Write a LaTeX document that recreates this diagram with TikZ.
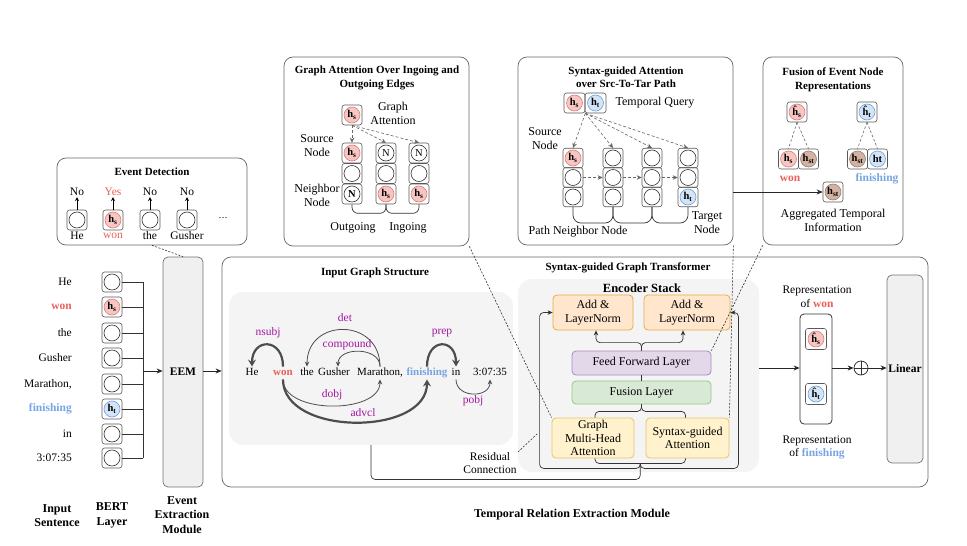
\documentclass[tikz,border=0pt]{standalone}
\usepackage{fontspec}
\setmainfont{Liberation Serif}
\usetikzlibrary{arrows.meta,calc}
\definecolor{redF}{HTML}{F6C6C3}
\definecolor{redD}{HTML}{E07B76}
\definecolor{blueF}{HTML}{D4E4F7}
\definecolor{blueD}{HTML}{6F9FD8}
\definecolor{brownF}{HTML}{D2B2A2}
\definecolor{brownD}{HTML}{9A7E70}
\definecolor{wonC}{HTML}{E8605A}
\definecolor{finC}{HTML}{76A5E2}
\definecolor{relC}{HTML}{A316A0}
\definecolor{arcC}{HTML}{4D4D4D}
\definecolor{addF}{HTML}{FFE6CC}
\definecolor{addD}{HTML}{E5AC45}
\definecolor{ffnF}{HTML}{E3D7EA}
\definecolor{ffnD}{HTML}{A88CC0}
\definecolor{fusF}{HTML}{D8EAD6}
\definecolor{fusD}{HTML}{96C48A}
\definecolor{attF}{HTML}{FFF2CC}
\definecolor{attD}{HTML}{E5C46B}
\definecolor{panelF}{HTML}{F4F4F4}
\newcommand{\myh}[1]{\textbf{h}\textsubscript{\textbf{#1}}}
\newcommand{\myhh}[1]{\textbf{\^{h}}\textsubscript{\textbf{#1}}}
\newcommand{\tcell}[6][]{%
  \node[cellbox,#1] (#2) at (#3) {};
  \node[tokc, fill=#4, draw=#5] (#2c) at (#3) {#6};}
\begin{document}
\begin{tikzpicture}[x=1pt,y=-1pt,
  tx/.style={font=\fontsize{11.5}{13.5}\selectfont, inner sep=1pt, align=center},
  txl/.style={font=\fontsize{12}{14}\selectfont, inner sep=1pt, align=center},
  ttl/.style={font=\bfseries\fontsize{11}{13.5}\selectfont, inner sep=1pt, align=center},
  btl/.style={font=\bfseries\fontsize{12}{14.5}\selectfont, inner sep=1pt, align=center},
  cellbox/.style={draw=black!65, rounded corners=2.5pt, minimum width=20pt, minimum height=20pt, inner sep=0pt, line width=0.6pt},
  tokc/.style={circle, minimum size=16pt, inner sep=0pt, line width=0.6pt, font=\fontsize{10.5}{10.5}\selectfont},
  panelbox/.style={draw=black!60, rounded corners=9pt, line width=0.7pt, inner sep=0pt},
  graybg/.style={fill=panelF, rounded corners=14pt, inner sep=0pt},
  modbox/.style={draw=black!55, fill=black!6, rounded corners=5pt, line width=0.7pt, inner sep=0pt},
  encblk/.style={rounded corners=4pt, line width=0.8pt, inner sep=1pt, align=center, font=\fontsize{12}{13.5}\selectfont},
  dsh/.style={dash pattern=on 2pt off 1.5pt, line width=0.55pt, black!85},
  garr/.style={dash pattern=on 3pt off 2pt, line width=0.6pt, black!60, -{Stealth[length=5pt,width=4.5pt]}},
  gline/.style={dash pattern=on 2.5pt off 2pt, line width=0.6pt, black!60},
  conn/.style={line width=0.7pt, black!80},
  sarr/.style={line width=0.7pt, black!85, -{Stealth[length=6pt,width=5pt]}},
  tarr/.style={line width=0.8pt, black, -{Stealth[length=4pt,width=4pt]}},
  carr/.style={conn, rounded corners=4pt, -{Stealth[length=5pt,width=4.5pt]}},
  thinarc/.style={line width=0.8pt, arcC, -{Stealth[length=5pt,width=4.5pt]}},
  thickarc/.style={line width=2.2pt, arcC, -{Stealth[length=7pt,width=8pt,inset=2.5pt]}},
  rel/.style={font=\fontsize{11.5}{13}\selectfont, text=relC, inner sep=1pt},
  gw/.style={font=\fontsize{11}{13}\selectfont, text height=8pt, text depth=2.5pt, inner sep=1pt},
]
\useasboundingbox (0,0) rectangle (967,546);

% ---------- panels ----------
\node[panelbox, minimum width=190pt, minimum height=87pt] (edbox) at (152,201.5) {};
\node[panelbox, minimum width=185pt, minimum height=189pt] (gabox) at (376.5,151.5) {};
\node[panelbox, minimum width=215pt, minimum height=188pt] (sabox) at (625.5,151) {};
\node[panelbox, minimum width=140pt, minimum height=188pt] (fubox) at (833,151) {};
\node[panelbox, minimum width=706pt, minimum height=230pt] (trem) at (575,372) {};
\node[graybg, minimum width=284pt, minimum height=153pt] (igs) at (371,368.5) {};
\node[graybg, minimum width=241pt, minimum height=193pt] (enc) at (638.5,375.5) {};
\node[modbox, minimum width=40pt, minimum height=230pt, font=\bfseries\fontsize{11.5}{13}\selectfont] (eem) at (183,372) {EEM};
\node[modbox, minimum width=36pt, minimum height=188pt, font=\bfseries\fontsize{11.5}{13}\selectfont] (lin) at (905,369) {Linear};

% ---------- left: input sentence + BERT ----------
\node[tx, anchor=east] (s1) at (73,282) {He};
\node[tx, anchor=east, text=wonC, font=\bfseries\fontsize{11.5}{13.5}\selectfont] (s2) at (73,307) {won};
\node[tx, anchor=east] (s3) at (73,333) {the};
\node[tx, anchor=east] (s4) at (73,358) {Gusher};
\node[tx, anchor=east] (s5) at (73,384) {Marathon,};
\node[tx, anchor=east, text=finC, font=\bfseries\fontsize{11.5}{13.5}\selectfont] (s6) at (73,409) {finishing};
\node[tx, anchor=east] (s7) at (73,434) {in};
\node[tx, anchor=east] (s8) at (73,458) {3:07:35};

\tcell{b1}{112,282}{white}{black!80}{}
\tcell{b2}{112,307}{redF}{redD}{\myh{s}}
\tcell{b3}{112,333}{white}{black!80}{}
\tcell{b4}{112,358}{white}{black!80}{}
\tcell{b5}{112,384}{white}{black!80}{}
\tcell{b6}{112,409}{blueF}{blueD}{\myh{t}}
\tcell{b7}{112,434}{white}{black!80}{}
\tcell{b8}{112,458}{white}{black!80}{}
\coordinate (bus) at (143,371);
\foreach \i in {1,...,8} { \draw[conn] (b\i.east) -- (b\i.east -| bus); }
\draw[conn] (b1.east -| bus) -- (b8.east -| bus);
\draw[sarr] (bus) -- (eem.west |- bus);
\draw[sarr] (eem.east |- bus) -- (trem.west |- bus);

\node[btl] at (57,515.5) {Input\\Sentence};
\node[btl] at (112,515.5) {BERT\\Layer};
\node[btl] at (182,515) {Event\\Extraction\\Module};
\node[btl] at (572,515) {Temporal Relation Extraction Module};

% ---------- event detection ----------
\node[ttl] at (152,172) {Event Detection};
\tcell{e1}{77,220}{white}{black!80}{}
\tcell{e2}{113,220}{redF}{redD}{\myh{s}}
\tcell{e3}{150,220}{white}{black!80}{}
\tcell{e4}{187,220}{white}{black!80}{}
\node[font=\fontsize{10}{11}\selectfont, inner sep=1pt] at (223,218) {.\kern0.5pt.\kern0.5pt.};
\node[tx] (e1l) at (77,192) {No};
\node[tx, text=wonC] (e2l) at (113,192) {Yes};
\node[tx] (e3l) at (150,192) {No};
\node[tx] (e4l) at (187,192) {No};
\foreach \i in {1,...,4} { \draw[tarr] (e\i.north) -- (e\i l.south); }
\node[tx] at (77,236) {He};
\node[tx, text=wonC] at (113,236) {won};
\node[tx] at (150,236) {the};
\node[tx] at (187,236) {Gusher};

% ---------- graph attention box ----------
\node[ttl] at (377,78) {Graph Attention Over Ingoing and\\Outgoing Edges};
\tcell{ga0}{352,115}{redF}{redD}{\myh{s}}
\node[txl] at (393,113) {Graph\\Attention};
\tcell{ga11}{352,153}{redF}{redD}{\myh{s}}
\tcell{ga12}{352,173.5}{white}{black!80}{}
\tcell{ga13}{352,194}{white}{black!80}{\textbf{N}}
\tcell{ga21}{386,153}{white}{black!80}{N}
\tcell{ga22}{386,173.5}{white}{black!80}{}
\tcell{ga23}{386,194}{redF}{redD}{\myh{s}}
\tcell{ga31}{419,153}{white}{black!80}{N}
\tcell{ga32}{419,173.5}{white}{black!80}{}
\tcell{ga33}{419,194}{redF}{redD}{\myh{s}}
\draw[garr] (ga0.south) -- (ga11.north);
\draw[garr] (ga0.south) -- (ga21.north);
\draw[garr] (ga0.south) -- (ga31.north);
\draw[conn, rounded corners=6pt] (ga13.south) -- ++(0,9) -| (ga23.south);
\draw[conn, rounded corners=6pt] (ga23.south) -- ++(0,9) -| (ga33.south);
\node[txl] at (317,146) {Source\\Node};
\node[txl] at (317,195.5) {Neighbor\\Node};
\node[txl] at (353,228) {Outgoing};
\node[txl] at (408,228) {Ingoing};

% ---------- syntax-guided attention box ----------
\node[ttl] at (626,77) {Syntax-guided Attention\\over Src-To-Tar Path};
\tcell[minimum width=21pt]{q1}{574.5,103}{redF}{redD}{\myh{s}}
\tcell[minimum width=21pt]{q2}{595.5,103}{blueF}{blueD}{\myh{t}}
\node[txl] at (655,103) {Temporal Query};
\tcell[minimum height=19.5pt]{sa11}{573,158}{redF}{redD}{\myh{s}}
\tcell[minimum height=19.5pt]{sa12}{573,177.5}{white}{black!80}{}
\tcell[minimum height=19.5pt]{sa13}{573,197}{white}{black!80}{}
\tcell[minimum height=19.5pt]{sa21}{613,158}{white}{black!80}{}
\tcell[minimum height=19.5pt]{sa22}{613,177.5}{white}{black!80}{}
\tcell[minimum height=19.5pt]{sa23}{613,197}{white}{black!80}{}
\tcell[minimum height=19.5pt]{sa31}{652,158}{white}{black!80}{}
\tcell[minimum height=19.5pt]{sa32}{652,177.5}{white}{black!80}{}
\tcell[minimum height=19.5pt]{sa33}{652,197}{white}{black!80}{}
\tcell[minimum height=19.5pt]{sa41}{688,158}{white}{black!80}{}
\tcell[minimum height=19.5pt]{sa42}{688,177.5}{white}{black!80}{}
\tcell[minimum height=19.5pt]{sa43}{688,197}{blueF}{blueD}{\myh{t}}
\foreach \c in {1,2,3,4} { \draw[garr] (q1.south east) -- (sa\c1.north); }
\draw[garr] (sa12.east) -- (sa22.west);
\draw[garr] (sa22.east) -- (sa32.west);
\draw[garr] (sa32.east) -- (sa42.west);
\draw[conn, rounded corners=8pt] (sa13.south) -- ++(0,16) -| (sa23.south);
\draw[conn, rounded corners=8pt] (sa23.south) -- ++(0,16) -| (sa33.south);
\draw[conn, rounded corners=8pt] (sa33.south) -- ++(0,16) -| (sa43.south);
\node[txl] at (545,138.5) {Source\\Node};
\node[txl] at (578,232) {Path Neighbor Node};
\node[txl] at (707,222.5) {Target\\Node};

% ---------- fusion box ----------
\node[ttl] at (833,80) {Fusion of Event Node\\Representations};
\tcell{fa}{797,112}{redF}{redD}{\myhh{s}}
\tcell{fb}{867,112}{blueF}{blueD}{\myhh{t}}
\tcell{f1}{788.5,159}{redF}{redD}{\myh{s}}
\tcell{f2}{808.5,159}{brownF}{brownD}{\myh{st}}
\tcell{f3}{857.5,159}{brownF}{brownD}{\myh{st}}
\tcell{f4}{877.5,159}{blueF}{blueD}{\textbf{ht}}
\draw[gline] (fa.south) -- (f1.north);
\draw[gline] (fa.south) -- (f2.north);
\draw[gline] (fb.south) -- (f3.north);
\draw[gline] (fb.south) -- (f4.north);
\node[tx, text=wonC, font=\bfseries\fontsize{11.5}{13.5}\selectfont] at (790,179) {won};
\node[tx, text=finC, font=\bfseries\fontsize{11.5}{13.5}\selectfont] at (877,179) {finishing};
\tcell{fh}{833,192}{brownF}{brownD}{\myh{st}}
\node[txl] at (833,220.5) {Aggregated Temporal\\Information};
\draw[sarr] (sabox.east |- fh) -- (fh.west);

% ---------- input graph structure ----------
\node[ttl] at (375,273) {Input Graph Structure};
\node[gw] (ghe) at (252,373) {He};
\node[gw, text=wonC, font=\bfseries\fontsize{11}{13}\selectfont] (gwon) at (283,373) {won};
\node[gw] (gthe) at (307,373) {the};
\node[gw] (ggus) at (334,373) {Gusher};
\node[gw] (gmar) at (380,373) {Marathon,};
\node[gw, text=finC, font=\bfseries\fontsize{11}{13}\selectfont] (gfin) at (427,373) {finishing};
\node[gw] (gin) at (456,373) {in};
\node[gw] (gtim) at (490,373) {3:07:35};
\draw[thickarc] (gwon.north) .. controls +(0,-29) and +(0,-29) .. (ghe.north);
\draw[thinarc] (gmar.north) .. controls +(0,-49) and +(0,-49) .. (gthe.north);
\draw[thinarc] (gmar.north) .. controls +(0,-20) and +(0,-20) .. ([xshift=4pt]ggus.north);
\draw[thinarc] (gwon.south) .. controls +(0,35) and +(0,35) .. (gmar.south);
\draw[thickarc] (gwon.south) .. controls +(0,57) and +(0,57) .. (gfin.south);
\draw[thickarc] (gfin.north) .. controls +(0,-29) and +(0,-29) .. (gin.north);
\draw[thinarc] (gin.south) .. controls +(0,19) and +(0,19) .. (gtim.south);
\node[rel] at (268,333) {nsubj};
\node[rel] at (345,318) {det};
\node[rel] at (347,345) {compound};
\node[rel] at (332,395) {dobj};
\node[rel] at (363,413) {advcl};
\node[rel] at (442,333) {prep};
\node[rel] at (473,401) {pobj};

% ---------- encoder stack ----------
\node[ttl] at (628,268) {Syntax-guided Graph Transformer};
\node[font=\bfseries\fontsize{12.5}{14}\selectfont] at (642,288) {Encoder Stack};
\node[encblk, fill=addF, draw=addD, minimum width=80pt, minimum height=35pt] (addL) at (593,312.5) {Add \&\\LayerNorm};
\node[encblk, fill=addF, draw=addD, minimum width=86pt, minimum height=35pt] (addR) at (687,312.5) {Add \&\\LayerNorm};
\node[encblk, fill=ffnF, draw=ffnD, minimum width=139pt, minimum height=24pt] (ffn) at (641.5,363) {Feed Forward Layer};
\node[encblk, fill=fusF, draw=fusD, minimum width=139pt, minimum height=23pt] (fus) at (641.5,392.5) {Fusion Layer};
\node[encblk, fill=attF, draw=attD, minimum width=82pt, minimum height=40pt] (gmha) at (593,438) {Graph\\Multi-Head\\Attention};
\node[encblk, fill=attF, draw=attD, minimum width=83pt, minimum height=40pt] (sga) at (687.5,438) {Syntax-guided\\Attention};
\draw[conn] (fus.north) -- (ffn.south);
\draw[carr] (ffn.north) -- ++(0,-8) -| ([xshift=3pt]addL.south);
\draw[carr] (ffn.north) -- ++(0,-8) -| ([xshift=-4pt]addR.south);
\draw[conn, rounded corners=4pt] (fus.south) -- ++(0,7) -| ([xshift=2pt]gmha.north);
\draw[conn, rounded corners=4pt] (fus.south) -- ++(0,7) -| ([xshift=-2pt]sga.north);
\coordinate (jn) at ($(gmha.south)!0.5!(sga.south)+(0,5)$);
\draw[conn, rounded corners=4pt] ([xshift=2pt]gmha.south) -- ++(0,5) -| ([xshift=-2pt]sga.south);
\draw[carr] (jn) -- ++(0,5) -| ($(addL.west)+(-13,0)$) -- (addL.west);
\draw[carr] (jn) -- ++(0,5) -| ($(addR.east)+(8,0)$) -- (addR.east);
\draw[conn, rounded corners=4pt] (jn) -- ++(0,16) -| (igs.south);
\node[tx] (rc) at (490,463) {Residual\\Connection};
\coordinate (rcA) at (518,452);
\coordinate (rcB) at (538,433);
\draw[dsh] (rcA) -- (rcB);

% ---------- dashed links from detail panels ----------
\draw[dsh] (edbox.south) -- (eem.north);
\draw[dsh] (gabox.south east) -- (gmha.north west);
\draw[dsh] (sabox.south east) -- (sga.north east);
\draw[dsh] (fubox.south west) -- (ffn.north east);

% ---------- representation + linear ----------
\node[draw=black!80, rounded corners=4pt, line width=0.8pt, minimum width=32pt, minimum height=110pt, inner sep=0pt] (rep) at (816,369) {};
\tcell[minimum width=21pt, minimum height=21pt]{r1}{816,339}{redF}{redD}{\myhh{s}}
\tcell[minimum width=21pt, minimum height=21pt]{r2}{816,394}{blueF}{blueD}{\myhh{t}}
\node[tx] at (817,296.5) {Representation\\of \textcolor{wonC}{\textbf{won}}};
\node[tx] at (817,447.5) {Representation\\of \textcolor{finC}{\textbf{finishing}}};
\node[circle, draw=black!85, line width=0.7pt, minimum size=14pt, inner sep=0pt] (op) at (861,368) {};
\draw[conn] (op.north) -- (op.south);
\draw[conn] (op.west) -- (op.east);
\draw[sarr] (enc.east |- op) -- (rep.west |- op);
\draw[sarr] (rep.east |- op) -- (op.west);
\draw[sarr] (op.east) -- (lin.west |- op);
\end{tikzpicture}
\end{document}
